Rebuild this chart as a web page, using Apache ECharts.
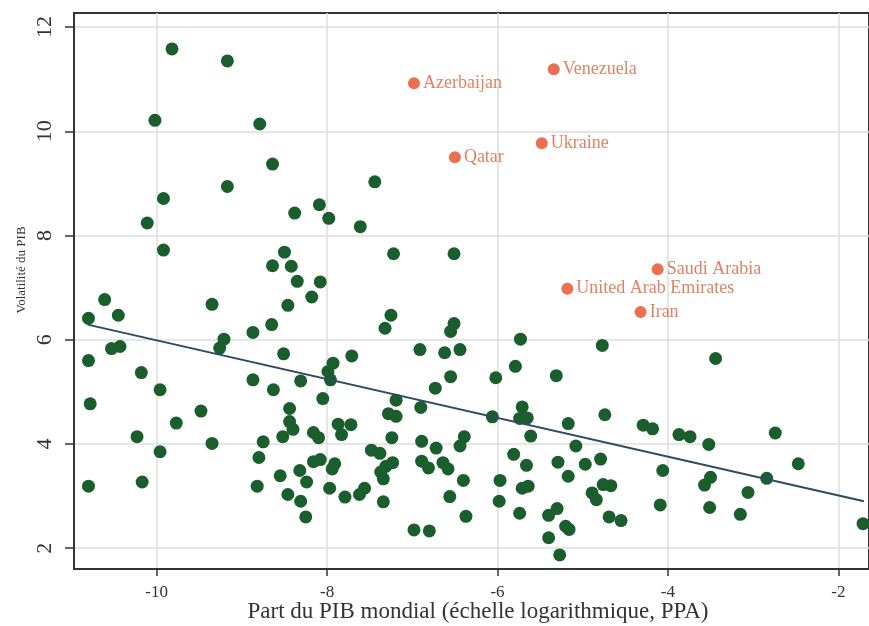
<!DOCTYPE html>
<html>
<head>
<meta charset="utf-8">
<script src="https://cdn.jsdelivr.net/npm/echarts@6/dist/echarts.min.js"></script>
<style>html,body{margin:0;padding:0;background:#fff}#c{width:869px;height:626px}</style>
</head>
<body>
<div id="c"></div>
<script>
// Green countries: log share of world GDP (x) and GDP volatility (y)
const greenX = [-9.82,-9.17,-10.02,-8.79,-8.64,-9.17,-7.44,-9.92,-8.38,-8.09,-7.98,-10.11,-7.61,-9.92,-8.50,-7.22,-8.64,-8.42,-8.35,-8.08,
  -10.61,-9.35,-8.46,-8.18,-10.80,-10.45,-7.25,-8.65,-7.32,-8.87,-9.21,-9.26,-10.53,-10.43,-10.80,-8.51,-7.71,-6.91,-7.93,-7.99,
  -7.96,-10.18,-9.96,-8.87,-8.63,-8.31,-6.73,-10.78,-8.05,-7.19,-6.90,-8.44,-9.48,-9.77,-8.44,-8.40,-8.52,-7.87,-7.72,-7.83,
  -7.28,-7.19,-8.16,-8.10,-10.23,-9.35,-8.75,-7.24,-6.89,-6.72,-9.96,-8.80,-7.48,-7.38,-8.16,-8.08,-7.91,-7.94,-7.23,-7.31,
  -7.37,-7.34,-6.89,-6.81,-8.55,-8.32,-8.24,-10.80,-10.17,-8.82,-7.97,-8.46,-8.31,-7.79,-7.62,-7.56,-7.34,-8.25,-6.98,-6.80,
  -6.51,-6.55,-5.73,-6.62,-6.44,-4.77,-3.44,-5.79,-6.55,-6.02,-5.31,-5.71,-6.06,-5.74,-5.65,-4.74,-5.17,-5.61,-6.39,-6.44,
  -4.29,-4.18,-3.87,-3.74,-2.74,-3.52,-5.08,-5.81,-4.79,-6.64,-6.58,-5.29,-4.97,-5.66,-4.06,-2.47,-2.84,-6.40,-5.97,-5.17,
  -5.71,-5.64,-4.76,-4.67,-4.89,-4.84,-3.50,-3.57,-3.06,-6.56,-5.98,-6.37,-5.74,-5.40,-5.30,-5.20,-5.16,-5.40,-5.27,-4.69,
  -4.55,-4.09,-3.51,-3.15,-1.71,-6.51];
const greenY = [11.58,11.35,10.21,10.14,9.37,8.94,9.03,8.71,8.43,8.59,8.33,8.24,8.17,7.72,7.68,7.65,7.42,7.41,7.12,7.11,
  6.77,6.68,6.66,6.82,6.41,6.47,6.47,6.29,6.22,6.14,6.01,5.84,5.83,5.87,5.60,5.73,5.69,5.81,5.55,5.39,
  5.23,5.37,5.04,5.23,5.04,5.21,5.07,4.77,4.87,4.84,4.70,4.68,4.63,4.40,4.43,4.28,4.14,4.38,4.37,4.18,
  4.58,4.53,4.22,4.12,4.14,4.01,4.04,4.12,4.05,3.92,3.85,3.74,3.88,3.82,3.66,3.70,3.62,3.52,3.64,3.57,
  3.46,3.33,3.67,3.54,3.39,3.49,3.27,3.19,3.27,3.19,3.15,3.03,2.90,2.98,3.03,3.15,2.89,2.60,2.35,2.33,
  6.31,6.16,6.01,5.75,5.81,5.89,5.64,5.49,5.29,5.27,5.31,4.71,4.52,4.49,4.50,4.56,4.39,4.15,4.14,3.96,
  4.36,4.29,4.18,4.14,4.21,3.99,3.96,3.80,3.71,3.64,3.52,3.65,3.61,3.59,3.49,3.62,3.34,3.30,3.30,3.38,
  3.15,3.19,3.22,3.20,3.06,2.93,3.36,3.21,3.07,2.99,2.90,2.61,2.67,2.63,2.76,2.42,2.36,2.20,1.87,2.60,
  2.53,2.83,2.78,2.65,2.47,7.65];

// Highlighted countries
const redNames = ['Azerbaijan','Venezuela','Qatar','Ukraine','Saudi Arabia','United Arab Emirates','Iran'];
const redX = [-6.98,-5.34,-6.50,-5.48,-4.12,-5.18,-4.32];
const redY = [10.92,11.19,9.50,9.77,7.35,6.98,6.53];

// Fitted line endpoints
const fitX = [-10.81,-1.70];
const fitY = [6.29,2.90];

// Axis ticks
const xTicks = [-10,-8,-6,-4,-2];
const yTicks = [2,4,6,8,10,12];

const xTitle = 'Part du PIB mondial (échelle logarithmique, PPA)';
const yTitle = 'Volatilité du PIB';

const FONT = '"Liberation Serif", "DejaVu Serif", serif';
const chart = echarts.init(document.getElementById('c'), null, {renderer:'canvas'});

const greenData = greenX.map((x,i)=>[x, greenY[i]]);
const redData = redNames.map((n,i)=>({name:n, value:[redX[i], redY[i]]}));
const fitData = fitX.map((x,i)=>[x, fitY[i]]);

chart.setOption({
  animation:false,
  backgroundColor:'#fff',
  grid:{left:74, right:-2, top:13, bottom:57, show:true, borderColor:'#333', borderWidth:2, containLabel:false},
  xAxis:{
    type:'value', min:-10.97, max:-1.64,
    axisLine:{show:true, onZero:false, lineStyle:{color:'#333', width:2}},
    axisTick:{show:true, length:7, customValues:xTicks, lineStyle:{color:'#333', width:1.5}},
    axisLabel:{customValues:xTicks, margin:15, fontFamily:FONT, fontSize:17, color:'#333', formatter:v=>String(v)},
    splitLine:{show:true, lineStyle:{color:'#dedede', width:1.5}}
  },
  yAxis:{
    type:'value', min:1.6, max:12.27,
    axisLine:{show:true, onZero:false, lineStyle:{color:'#333', width:2}},
    axisTick:{show:true, length:9, customValues:yTicks, lineStyle:{color:'#333', width:1.5}},
    axisLabel:{customValues:yTicks, rotate:90, margin:18, fontFamily:FONT, fontSize:22, color:'#333', formatter:v=>String(v)},
    splitLine:{show:true, lineStyle:{color:'#dedede', width:1.5}}
  },
  graphic:[
    {type:'text', x:478, y:612, style:{text:xTitle, font:'23px ' + FONT, fill:'#333', align:'center', verticalAlign:'middle'}},
    {type:'text', x:22, y:270, rotation:Math.PI/2, style:{text:yTitle, font:'13px ' + FONT, fill:'#333', align:'center', verticalAlign:'middle'}}
  ],
  series:[
    {type:'scatter', data:greenData, symbolSize:13, itemStyle:{color:'#1b5e2e', opacity:1}, z:3},
    {type:'line', data:fitData, symbol:'none', lineStyle:{color:'#2c4a63', width:2}, z:4},
    {type:'scatter', data:redData, symbolSize:12, itemStyle:{color:'#e64b26'}, z:5,
     label:{show:true, position:'right', distance:3, formatter:'{b}', fontFamily:FONT, fontSize:18, color:'#d8603c'}}
  ]
});
</script>
</body>
</html>
